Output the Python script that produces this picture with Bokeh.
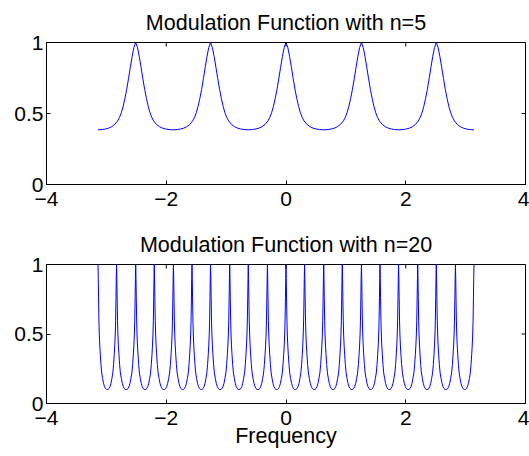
import math
from bokeh.plotting import figure
from bokeh.layouts import column
from bokeh.models import Range1d, FixedTicker
from bokeh.embed import file_html
from bokeh.resources import INLINE

# ---- data ----
x_ticks = [-4, -2, 0, 2, 4]
x_tick_labels = ["\u22124", "\u22122", "0", "2", "4"]
y_ticks = [0, 0.5, 1]
y_tick_labels = ["0", "0.5", "1"]

titles = ["Modulation Function with n=5", "Modulation Function with n=20"]
x_label = "Frequency"

freq_start = -3.14
freq_end = 3.14

# n = 5: peak positions and the shape of one half period (peak -> trough),
# position given as fraction of the half gap between peaks
peaks_n5 = [-2.51, -1.26, 0.0, 1.26, 2.51]
half_frac_n5 = [0.0, 0.048, 0.096, 0.143, 0.191, 0.239, 0.287, 0.334, 0.382,
                0.43, 0.478, 0.557, 0.637, 0.717, 0.796, 0.89, 1.0]
half_val_n5 = [1.0, 0.965, 0.90, 0.825, 0.745, 0.67, 0.605, 0.55, 0.505,
               0.472, 0.448, 0.423, 0.407, 0.397, 0.391, 0.387, 0.385]

# n = 20
peaks_n20 = [-3.14, -2.83, -2.51, -2.20, -1.88, -1.57, -1.26, -0.94, -0.63, -0.31,
             0.0, 0.31, 0.63, 0.94, 1.26, 1.57, 1.88, 2.20, 2.51, 2.83, 3.14]
half_frac_n20 = [0.0, 0.03, 0.06, 0.10, 0.14, 0.19, 0.25, 0.32, 0.40, 0.50,
                 0.60, 0.70, 0.80, 0.90, 1.0]
half_val_n20 = [1.0, 0.90, 0.76, 0.60, 0.50, 0.42, 0.35, 0.28, 0.22, 0.18,
                0.145, 0.122, 0.108, 0.102, 0.10]


def assemble(peaks, fracs, vals, start, end):
    xs, ys = [], []
    n = len(peaks)
    for i, pk in enumerate(peaks):
        left = (pk - peaks[i - 1]) / 2 if i > 0 else pk - start
        right = (peaks[i + 1] - pk) / 2 if i < n - 1 else end - pk
        if left > 1e-9:
            for f, v in zip(reversed(fracs[1:]), reversed(vals[1:])):
                xs.append(pk - f * left)
                ys.append(v)
        xs.append(pk)
        ys.append(vals[0])
        if right > 1e-9:
            for f, v in zip(fracs[1:], vals[1:]):
                xs.append(pk + f * right)
                ys.append(v)
    return xs, ys


FONT = "Liberation Sans"


def make_fig(title, xs, ys, height, top, bottom, xlabel=None):
    p = figure(width=529, height=height,
               x_range=Range1d(-4, 4), y_range=Range1d(0, 1),
               output_backend="svg", toolbar_location=None,
               min_border_left=46, min_border_right=4,
               min_border_top=top, min_border_bottom=bottom)
    p.title.text = title
    p.title.align = "center"
    p.title.text_font = FONT
    p.title.text_font_size = "21.5px"
    p.title.text_font_style = "normal"
    p.title.text_color = "black"
    p.title.standoff = 16
    p.xgrid.visible = False
    p.ygrid.visible = False
    p.outline_line_color = "black"
    p.outline_line_alpha = 1.0
    p.outline_line_width = 1
    p.background_fill_color = "white"
    p.border_fill_color = "white"

    p.line(xs, ys, line_color="#0000ff", line_width=1)

    for ax, ticks, labels in ((p.xaxis[0], x_ticks, x_tick_labels),
                              (p.yaxis[0], y_ticks, y_tick_labels)):
        ax.ticker = FixedTicker(ticks=ticks)
        ax.major_label_overrides = {t: l for t, l in zip(ticks, labels)}
        ax.minor_tick_line_color = None
        ax.major_tick_in = 4
        ax.major_tick_out = 0
        ax.major_tick_line_color = "black"
        ax.axis_line_color = "black"
        ax.major_label_text_font = FONT
        ax.major_label_text_font_size = "21px"
        ax.major_label_text_color = "black"
    p.xaxis[0].major_label_standoff = 7
    p.yaxis[0].major_label_standoff = 3
    if xlabel:
        p.xaxis[0].axis_label = xlabel
        p.xaxis[0].axis_label_text_font = FONT
        p.xaxis[0].axis_label_text_font_size = "21.5px"
        p.xaxis[0].axis_label_text_font_style = "normal"
        p.xaxis[0].axis_label_text_color = "black"
        p.xaxis[0].axis_label_standoff = -4

    # mirrored inward ticks on the top and right edges of the box
    p.ray(x=x_ticks, y=[y_ticks[-1]] * len(x_ticks), length=4, length_units="screen",
          angle=-math.pi / 2, line_color="black", line_width=1)
    p.ray(x=[x_ticks[-1]] * len(y_ticks), y=y_ticks, length=4, length_units="screen",
          angle=math.pi, line_color="black", line_width=1)
    return p


x5, y5 = assemble(peaks_n5, half_frac_n5, half_val_n5, freq_start, freq_end)
x20, y20 = assemble(peaks_n20, half_frac_n20, half_val_n20, freq_start, freq_end)

p1 = make_fig(titles[0], x5, y5, 222, 42, 38)
p2 = make_fig(titles[1], x20, y20, 234, 39, 53, xlabel=x_label)

layout = column(p1, p2, spacing=0)
open("out.html", "w").write(file_html(layout, INLINE))
